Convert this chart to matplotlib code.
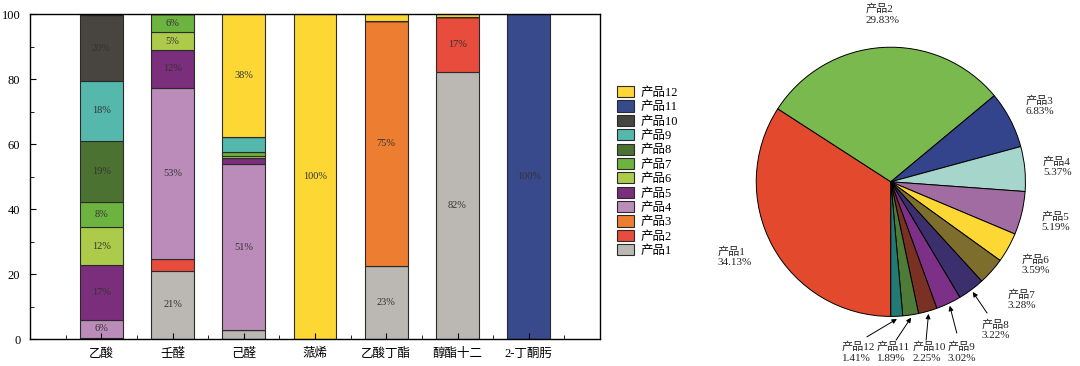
import numpy as np
import matplotlib
matplotlib.use("Agg")
import matplotlib.pyplot as plt
from matplotlib.patches import Patch

plt.rcParams['font.family'] = ['Liberation Serif', 'Noto Sans CJK SC', 'DejaVu Sans']

# ---- stacked bar data (percent share of each product per solvent) ----
solvents = ["乙酸", "壬醛", "己醛", "蒎烯", "乙酸丁酯", "醇酯十二", "2-丁酮肟"]
products = ["产品%d" % i for i in range(1, 13)]
bar_colors = ["#BBB8B3", "#E84C3D", "#ED7D31", "#BB8CBA", "#7A2E7C", "#ADCB4A",
              "#6DB33F", "#4C7232", "#55B8AC", "#48443F", "#384A8C", "#FDD835"]

share = {
    "产品1":  [0.4, 21.1, 2.9, 0, 22.6, 82.3, 0],
    "产品2":  [0, 3.5, 0, 0, 0, 16.7, 0],
    "产品3":  [0, 0, 0, 0, 75.2, 0, 0],
    "产品4":  [5.6, 52.6, 50.9, 0, 0, 0, 0],
    "产品5":  [16.8, 11.8, 1.8, 0, 0, 0, 0],
    "产品6":  [11.6, 5.4, 0.8, 0, 0, 0, 0],
    "产品7":  [7.7, 5.6, 1.2, 0, 0, 0, 0],
    "产品8":  [19.0, 0, 0, 0, 0, 0, 0],
    "产品9":  [18.2, 0, 4.7, 0, 0, 0, 0],
    "产品10": [20.3, 0, 0, 0, 0, 0, 0],
    "产品11": [0, 0, 0, 0, 0, 0, 100],
    "产品12": [0.4, 0, 37.7, 100, 2.2, 1.0, 0],
}

# ---- pie data ----
pie_labels = ["产品%d" % i for i in range(1, 13)]
pie_values = [34.13, 29.83, 6.83, 5.37, 5.19, 3.59, 3.28, 3.22, 3.02, 2.25, 1.89, 1.41]
pie_colors = ["#E34A2D", "#7AB94E", "#33448C", "#A6D5CB", "#A06CA2", "#FDD835",
              "#7D6E2E", "#3B2F6E", "#7D3087", "#7B3024", "#4E7B37", "#237A74"]

fig = plt.figure(figsize=(10.8, 3.66), dpi=100)
fig.patch.set_facecolor("white")

# ---------------- stacked bars ----------------
ax = fig.add_axes([0.0278, 0.073, 0.5278, 0.8887])
x = np.arange(1, len(solvents) + 1)
bottom = np.zeros(len(solvents))
for name, col in zip(products, bar_colors):
    vals = np.array(share[name], dtype=float)
    ax.bar(x, vals, 0.6, bottom=bottom, color=col, edgecolor="#2b2b2b",
           linewidth=0.8, label=name)
    for xi, b, v in zip(x, bottom, vals):
        if v >= 5:
            ax.text(xi, b + v / 2, "%d%%" % round(v), ha="center", va="center",
                    fontsize=7.5, color="#333333")
    bottom += vals

ax.set_xlim(0, 8)
ax.set_ylim(0, 100)
ax.set_xticks(x)
ax.set_xticklabels(solvents, fontsize=8)
ax.set_xticks(np.arange(0.5, 8, 1), minor=True)
ax.set_yticks(range(0, 101, 20))
ax.set_yticks(range(10, 100, 20), minor=True)
ax.tick_params(axis="both", which="both", direction="in", labelsize=9)
ax.tick_params(axis="y", pad=7)
ax.tick_params(axis="x", pad=6)
ax.tick_params(which="major", length=4)
ax.tick_params(which="minor", length=3)
for sp in ax.spines.values():
    sp.set_linewidth(1.0)

handles = [Patch(facecolor=c, edgecolor="#2b2b2b", linewidth=0.8) for c in bar_colors]
fig.legend(handles[::-1], products[::-1], loc="upper left",
           bbox_to_anchor=(0.571, 0.765), frameon=False, fontsize=9,
           handlelength=1.35, handleheight=1.0, handletextpad=0.6,
           labelspacing=0.12, borderpad=0, borderaxespad=0)

# ---------------- pie ----------------
pax = fig.add_axes([0.7002, 0.1355, 0.2493, 0.7355])
wedges, _ = pax.pie(pie_values, colors=pie_colors, startangle=270, counterclock=False,
                    wedgeprops=dict(edgecolor="black", linewidth=0.7))
pax.set_xlim(-1, 1)
pax.set_ylim(-1, 1)
pax.set_aspect("equal")

# label anchor positions (left edge, vertical centre) in pie data units
label_pos = [(-1.29, -0.557), (-0.19, 1.246), (1.0, 0.568), (1.13, 0.111),
             (1.12, -0.297), (0.97, -0.617), (0.87, -0.877), (0.675, -1.097),
             (0.42, -1.265), (0.16, -1.265), (-0.104, -1.265), (-0.364, -1.265)]
# arrow tails for the small slices
arrow_tail = {7: (0.715, -0.975), 8: (0.49, -1.124), 9: (0.262, -1.176),
              10: (0.039, -1.176), 11: (-0.178, -1.152)}

for i, (w, lab, v) in enumerate(zip(wedges, pie_labels, pie_values)):
    tx, ty = label_pos[i]
    pax.text(tx, ty, "%s\n%.2f%%" % (lab, v), ha="left", va="center",
             fontsize=8, linespacing=1.2, color="#222222", clip_on=False)
    if i in arrow_tail:
        ang = np.deg2rad((w.theta1 + w.theta2) / 2)
        head = (1.02 * np.cos(ang), 1.02 * np.sin(ang))
        pax.annotate("", xy=head, xytext=arrow_tail[i],
                     arrowprops=dict(arrowstyle="-|>", color="black", lw=0.7,
                                     mutation_scale=7, shrinkA=0, shrinkB=0),
                     annotation_clip=False)

fig.savefig("out.png", dpi=100, facecolor="white")
